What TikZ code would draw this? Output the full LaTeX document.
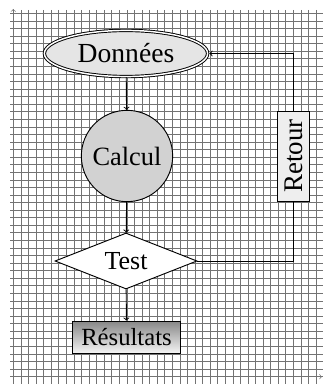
\documentclass[tikz,border=0pt]{standalone}
\usepackage{fontspec}
\setmainfont{Liberation Serif}
\usetikzlibrary{shapes.geometric}
\tikzset{
  gridline/.style={draw=black!55, line width=0.5pt},
  axisline/.style={draw=black!55, line width=0.5pt, ->},
  boxline/.style={draw=black, line width=0.7pt},
  conn/.style={draw=black, line width=0.7pt},
}
\begin{document}
\begin{tikzpicture}[x=0.75pt,y=-0.75pt]
\useasboundingbox (0,0) rectangle (323,384);
\clip (0,0) rectangle (323,384);
% grid
\foreach \k in {0,...,41} {
  \draw[gridline] ({13.3+7.57*\k},10) -- ({13.3+7.57*\k},386);
}
\foreach \k in {0,...,49} {
  \draw[gridline] (10,{13.3+7.57*\k}) -- (325,{13.3+7.57*\k});
}
% axes
\coordinate (o) at (13.3,376.7);
\coordinate (ytip) at (13.3,9);
\coordinate (xtip) at (322,376.7);
\draw[axisline] (o) -- (ytip);
\draw[axisline] (o) -- (xtip);
% nodes
\node[ellipse, boxline, double, double distance=1.1pt, fill=gray!20, inner sep=0pt,
  minimum width=122.4pt, minimum height=34.6pt] (donnees) at (126,53.5)
  {\fontsize{20.7}{24}\selectfont Données};
\node[circle, boxline, fill=gray!35, inner sep=0pt, minimum size=68.5pt] (calcul) at (127,156)
  {\fontsize{19.8}{24}\selectfont Calcul};
\node[diamond, boxline, fill=white, inner sep=0pt, shape aspect=2.5,
  minimum width=106.5pt, minimum height=42pt] (test) at (126,261)
  {\fontsize{19.5}{24}\selectfont Test};
\node[rectangle, boxline, top color=black!47, bottom color=gray!6, inner sep=0pt,
  minimum width=81.5pt, minimum height=24.5pt] (resultats) at (126.5,337.5)
  {\fontsize{18.5}{22}\selectfont Résultats};
\node[rectangle, boxline, fill=gray!13, inner sep=0pt, rotate=90,
  minimum width=67.5pt, minimum height=24pt] (retour) at (293.5,156)
  {\fontsize{20.2}{24}\selectfont Retour};
% connectors
\draw[conn,->] (donnees) -- (calcul);
\draw[conn,->] (calcul) -- (test);
\draw[conn,->] (test) -- (resultats);
\draw[conn] (test.east) -| (retour.west);
\draw[conn,->,shorten >=1pt] (retour.east) |- (donnees.east);
\end{tikzpicture}
\end{document}
